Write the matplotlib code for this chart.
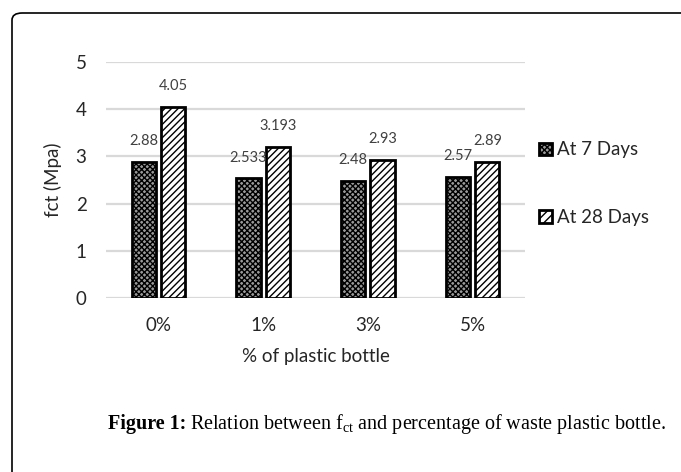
import matplotlib
matplotlib.use("Agg")
import matplotlib.pyplot as plt
from matplotlib.patches import FancyBboxPatch, Patch
import numpy as np

categories = ["0%", "1%", "3%", "5%"]
days7 = [2.88, 2.533, 2.48, 2.57]
days28 = [4.05, 3.193, 2.93, 2.89]
labels7 = ["2.88", "2.533", "2.48", "2.57"]
labels28 = ["4.05", "3.193", "2.93", "2.89"]
series_names = ["At 7 Days", "At 28 Days"]
yticks = [0, 1, 2, 3, 4, 5]

plt.rcParams['font.family'] = ['Lato', 'DejaVu Sans']
plt.rcParams['mathtext.fontset'] = 'custom'
plt.rcParams['mathtext.rm'] = 'Liberation Serif'
plt.rcParams['mathtext.it'] = 'Liberation Serif:italic'
plt.rcParams['mathtext.bf'] = 'Liberation Serif:bold'
plt.rcParams['hatch.linewidth'] = 1.0

W, H = 681, 472
fig = plt.figure(figsize=(W/100, H/100), dpi=100)

# rounded frame
frame = FancyBboxPatch((12/W, 1 - 700/H), 900/W, (700-13)/H,
                       boxstyle="round,pad=0,rounding_size=0.015",
                       transform=fig.transFigure, fill=False,
                       edgecolor='black', linewidth=1.2)
fig.patches.append(frame)

ax = fig.add_axes([106/W, 1 - 298/H, (525-106)/W, (298-62)/H])
x = np.arange(len(categories))
w = 0.23
off = 0.14
ax.bar(x - off, days7, w, facecolor='#9a9a9a', edgecolor='black',
       linewidth=2.0, hatch='xxxxxx', zorder=3)
ax.bar(x + off, days28, w, facecolor='white', edgecolor='black',
       linewidth=2.0, hatch='/////', zorder=3)

for xi, v, t in zip(x - off, days7, labels7):
    ax.annotate(t, (xi, v), xytext=(0, 15), textcoords='offset points',
                ha='center', va='center', fontsize=10.5, color='#404040')
for xi, v, t in zip(x + off, days28, labels28):
    ax.annotate(t, (xi, v), xytext=(0, 15), textcoords='offset points',
                ha='center', va='center', fontsize=10.5, color='#404040')

ax.set_xlim(-0.5, len(categories) - 0.5)
ax.set_ylim(0, 5)
ax.set_yticks(yticks)
ax.set_xticks(x)
ax.set_xticklabels(categories)
ax.tick_params(axis='both', length=0, labelsize=13.5, colors='#262626')
ax.tick_params(axis='y', pad=14)
ax.tick_params(axis='x', pad=14)
ax.grid(axis='y', color='#d9d9d9', linewidth=1.6, zorder=0)
for s in ax.spines.values():
    s.set_visible(False)
ax.set_axisbelow(True)

ax.set_ylabel("fct (Mpa)", fontsize=13.5, color='#262626', labelpad=10)
ax.set_xlabel("% of plastic bottle", fontsize=13.5, color='#262626', labelpad=10)

handles = [Patch(facecolor='#9a9a9a', edgecolor='black', hatch='xxxxxx', linewidth=2.0),
           Patch(facecolor='white', edgecolor='black', hatch='////', linewidth=2.0)]
leg = fig.legend(handles, series_names, loc='upper left',
                 bbox_to_anchor=(530/W, 1 - 132/H), frameon=False,
                 fontsize=13.5, handlelength=0.65, handleheight=0.65,
                 handletextpad=0.3, labelspacing=2.7, borderpad=0)
for t in leg.get_texts():
    t.set_color('#262626')

cy = 1 - 424/H
t1 = fig.text(108/W, cy, "Figure 1:", fontsize=14.5, family='Liberation Serif',
              weight='bold', ha='left', va='center', color='black')
fig.canvas.draw()
bb = t1.get_window_extent()
fig.text((bb.x1 + 4)/W, cy,
         r'Relation between f$_{\mathrm{ct}}$ and percentage of waste plastic bottle.',
         fontsize=14.5, family='Liberation Serif', ha='left', va='center', color='black')

fig.savefig("out.png", dpi=100)
